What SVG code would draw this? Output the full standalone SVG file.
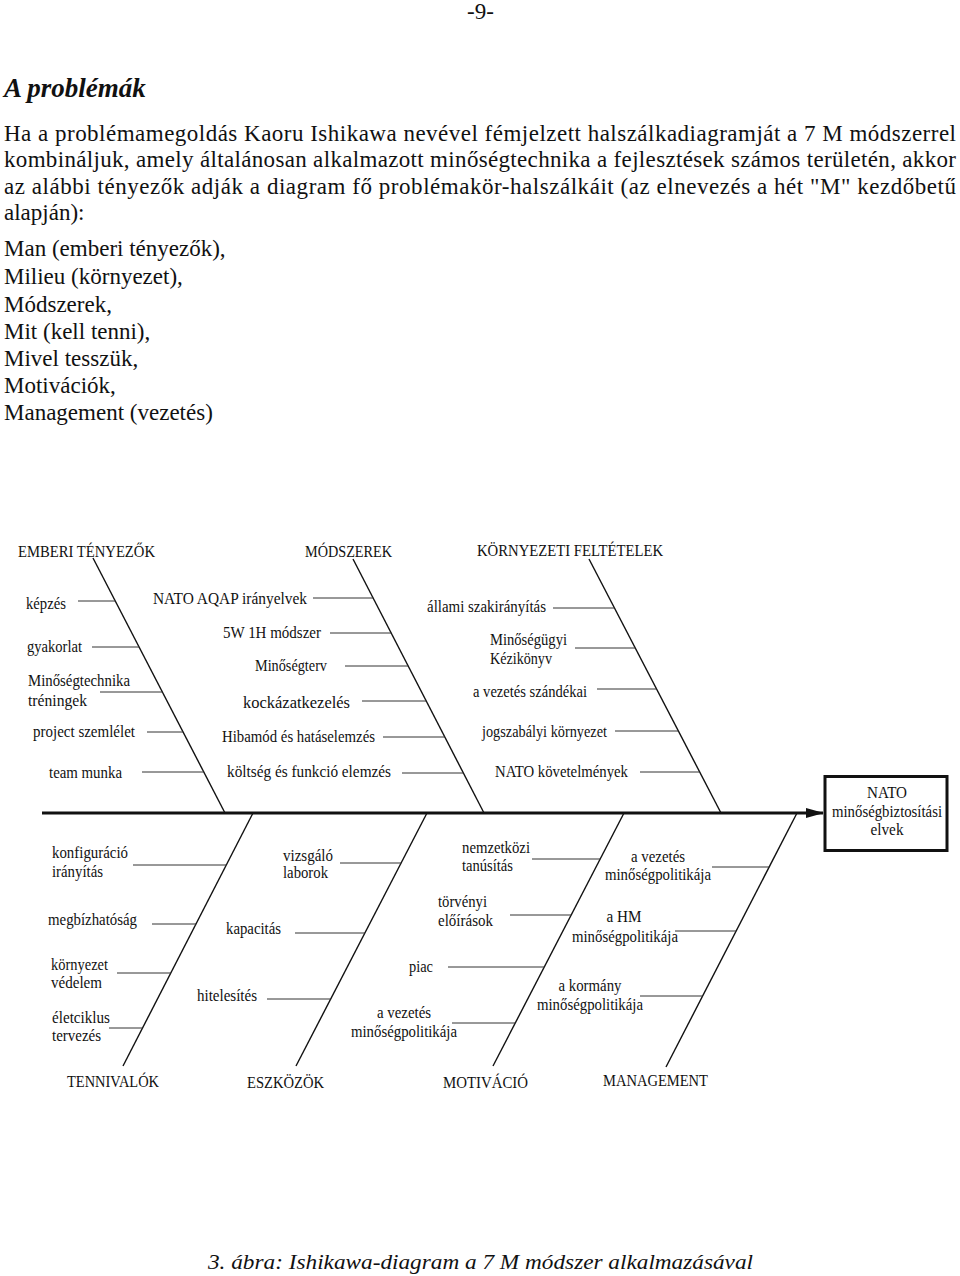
<svg xmlns="http://www.w3.org/2000/svg" width="960" height="1276" viewBox="0 0 960 1276">
<style>
text{font-family:"Liberation Serif","Times New Roman",serif;fill:#111}
.b{font-size:23px}
.h{font-size:27px;font-weight:bold;font-style:italic}
.l{font-size:16.5px}
.c{font-size:17.5px}
.cap{font-size:22px;font-style:italic}
.bone{stroke:#111;stroke-width:1.4;fill:none}
.rib{stroke:#333;stroke-width:1;fill:none}
.spine{stroke:#111;stroke-width:3;fill:none}
.m{text-anchor:middle}
</style>
<defs>
<marker id="arr" markerWidth="18" markerHeight="10" refX="17" refY="5" orient="auto" markerUnits="userSpaceOnUse">
<polygon points="0,0 18,5 0,10" fill="#111"/>
</marker>
</defs>
<rect width="960" height="1276" fill="#fff"/>

<g id="page-text">
<text class="b" x="467" y="19" font-size="22">-9-</text>
<text class="h" x="4" y="97">A problémák</text>
<text class="b" x="4" y="141" textLength="952" lengthAdjust="spacing">Ha a problémamegoldás Kaoru Ishikawa nevével fémjelzett halszálkadiagramját a 7 M módszerrel</text>
<text class="b" x="4" y="167" textLength="952" lengthAdjust="spacing">kombináljuk, amely általánosan alkalmazott minőségtechnika a fejlesztések számos területén, akkor</text>
<text class="b" x="4" y="194" textLength="952" lengthAdjust="spacing">az alábbi tényezők adják a diagram fő problémakör-halszálkáit (az elnevezés a hét "M" kezdőbetű</text>
<text class="b" x="4" y="220">alapján):</text>
<text class="b" x="4" y="256">Man (emberi tényezők),</text>
<text class="b" x="4" y="284">Milieu (környezet),</text>
<text class="b" x="4" y="312">Módszerek,</text>
<text class="b" x="4" y="339">Mit (kell tenni),</text>
<text class="b" x="4" y="366">Mivel tesszük,</text>
<text class="b" x="4" y="393">Motivációk,</text>
<text class="b" x="4" y="420">Management (vezetés)</text>
<text class="cap" x="208" y="1269" textLength="545" lengthAdjust="spacingAndGlyphs">3. ábra: Ishikawa-diagram a 7 M módszer alkalmazásával</text>
</g>

<g id="connectors">
<line class="spine" x1="42" y1="813" x2="823" y2="813" marker-end="url(#arr)"/>
<line class="bone" x1="93" y1="558" x2="225" y2="813"/>
<line class="bone" x1="353" y1="559" x2="484" y2="813"/>
<line class="bone" x1="589" y1="559" x2="721" y2="813"/>
<line class="bone" x1="253" y1="813" x2="123" y2="1066"/>
<line class="bone" x1="427" y1="813" x2="296" y2="1066"/>
<line class="bone" x1="624" y1="813" x2="493" y2="1066"/>
<line class="bone" x1="797" y1="813" x2="666" y2="1067"/>
<line class="rib" x1="78" y1="601" x2="115.3" y2="601"/>
<line class="rib" x1="92" y1="647" x2="139.1" y2="647"/>
<line class="rib" x1="100" y1="692" x2="162.4" y2="692"/>
<line class="rib" x1="147" y1="732" x2="183.1" y2="732"/>
<line class="rib" x1="142" y1="772" x2="203.8" y2="772"/>
<line class="rib" x1="313" y1="598" x2="373.1" y2="598"/>
<line class="rib" x1="330" y1="633" x2="391.2" y2="633"/>
<line class="rib" x1="345" y1="666" x2="408.2" y2="666"/>
<line class="rib" x1="362" y1="701" x2="426.2" y2="701"/>
<line class="rib" x1="383" y1="737" x2="444.8" y2="737"/>
<line class="rib" x1="402" y1="773" x2="463.4" y2="773"/>
<line class="rib" x1="553" y1="608" x2="614.5" y2="608"/>
<line class="rib" x1="575" y1="648" x2="635.3" y2="648"/>
<line class="rib" x1="597" y1="689" x2="656.6" y2="689"/>
<line class="rib" x1="615" y1="731" x2="678.4" y2="731"/>
<line class="rib" x1="640" y1="772" x2="699.7" y2="772"/>
<line class="rib" x1="133" y1="865" x2="226.3" y2="865"/>
<line class="rib" x1="152" y1="924" x2="196" y2="924"/>
<line class="rib" x1="117" y1="973" x2="170.8" y2="973"/>
<line class="rib" x1="109" y1="1028" x2="142.5" y2="1028"/>
<line class="rib" x1="340" y1="863" x2="401.1" y2="863"/>
<line class="rib" x1="295" y1="933" x2="364.9" y2="933"/>
<line class="rib" x1="267" y1="999" x2="330.7" y2="999"/>
<line class="rib" x1="532" y1="859" x2="600.2" y2="859"/>
<line class="rib" x1="510" y1="915" x2="571.2" y2="915"/>
<line class="rib" x1="448" y1="967" x2="544.3" y2="967"/>
<line class="rib" x1="452" y1="1023" x2="515.3" y2="1023"/>
<line class="rib" x1="712" y1="867" x2="769.2" y2="867"/>
<line class="rib" x1="675" y1="931" x2="736.1" y2="931"/>
<line class="rib" x1="640" y1="996" x2="702.6" y2="996"/>
</g>

<g id="cat-emberi"><text class="c" x="18" y="557" textLength="137" lengthAdjust="spacingAndGlyphs">EMBERI TÉNYEZŐK</text></g>
<g id="cat-modszerek"><text class="c" x="305" y="557" textLength="87" lengthAdjust="spacingAndGlyphs">MÓDSZEREK</text></g>
<g id="cat-kornyezeti"><text class="c" x="477" y="556" textLength="186" lengthAdjust="spacingAndGlyphs">KÖRNYEZETI FELTÉTELEK</text></g>
<g id="cat-tennivalok"><text class="c" x="67" y="1087" textLength="92" lengthAdjust="spacingAndGlyphs">TENNIVALÓK</text></g>
<g id="cat-eszkozok"><text class="c" x="247" y="1088" textLength="77" lengthAdjust="spacingAndGlyphs">ESZKÖZÖK</text></g>
<g id="cat-motivacio"><text class="c" x="443" y="1088" textLength="85" lengthAdjust="spacingAndGlyphs">MOTIVÁCIÓ</text></g>
<g id="cat-management"><text class="c" x="603" y="1086" textLength="105" lengthAdjust="spacingAndGlyphs">MANAGEMENT</text></g>

<g id="n-kepzes"><text class="l" x="26" y="609" textLength="40" lengthAdjust="spacingAndGlyphs">képzés</text></g>
<g id="n-gyakorlat"><text class="l" x="27" y="652" textLength="55" lengthAdjust="spacingAndGlyphs">gyakorlat</text></g>
<g id="n-minosegtechnika"><text class="l" x="28" y="686" textLength="102" lengthAdjust="spacingAndGlyphs">Minőségtechnika</text><text class="l" x="28" y="706" textLength="59" lengthAdjust="spacingAndGlyphs">tréningek</text></g>
<g id="n-project"><text class="l" x="33" y="737" textLength="102" lengthAdjust="spacingAndGlyphs">project szemlélet</text></g>
<g id="n-team"><text class="l" x="49" y="778" textLength="73" lengthAdjust="spacingAndGlyphs">team munka</text></g>

<g id="n-aqap"><text class="l" x="153" y="604" textLength="154" lengthAdjust="spacingAndGlyphs">NATO  AQAP irányelvek</text></g>
<g id="n-5w1h"><text class="l" x="223" y="638" textLength="98" lengthAdjust="spacingAndGlyphs">5W 1H módszer</text></g>
<g id="n-minosegterv"><text class="l" x="255" y="671" textLength="72" lengthAdjust="spacingAndGlyphs">Minőségterv</text></g>
<g id="n-kockazat"><text class="l" x="243" y="708" textLength="107" lengthAdjust="spacingAndGlyphs">kockázatkezelés</text></g>
<g id="n-hibamod"><text class="l" x="222" y="742" textLength="153" lengthAdjust="spacingAndGlyphs">Hibamód és hatáselemzés</text></g>
<g id="n-koltseg"><text class="l" x="227" y="777" textLength="164" lengthAdjust="spacingAndGlyphs">költség és funkció elemzés</text></g>

<g id="n-allami"><text class="l" x="427" y="612" textLength="119" lengthAdjust="spacingAndGlyphs">állami szakirányítás</text></g>
<g id="n-kezikonyv"><text class="l" x="490" y="645" textLength="77" lengthAdjust="spacingAndGlyphs">Minőségügyi</text><text class="l" x="490" y="664" textLength="62" lengthAdjust="spacingAndGlyphs">Kézikönyv</text></g>
<g id="n-szandekai"><text class="l" x="473" y="697" textLength="114" lengthAdjust="spacingAndGlyphs">a vezetés szándékai</text></g>
<g id="n-jogszabalyi"><text class="l" x="482" y="737" textLength="125" lengthAdjust="spacingAndGlyphs">jogszabályi környezet</text></g>
<g id="n-natokov"><text class="l" x="495" y="777" textLength="133" lengthAdjust="spacingAndGlyphs">NATO követelmények</text></g>

<g id="n-konfig"><text class="l" x="52" y="858" textLength="76" lengthAdjust="spacingAndGlyphs">konfiguráció</text><text class="l" x="52" y="877" textLength="51" lengthAdjust="spacingAndGlyphs">irányítás</text></g>
<g id="n-megbiz"><text class="l" x="48" y="925" textLength="89" lengthAdjust="spacingAndGlyphs">megbízhatóság</text></g>
<g id="n-kornyvedelem"><text class="l" x="51" y="970" textLength="57" lengthAdjust="spacingAndGlyphs">környezet</text><text class="l" x="51" y="988" textLength="51" lengthAdjust="spacingAndGlyphs">védelem</text></g>
<g id="n-eletciklus"><text class="l" x="52" y="1023" textLength="58" lengthAdjust="spacingAndGlyphs">életciklus</text><text class="l" x="52" y="1041" textLength="49" lengthAdjust="spacingAndGlyphs">tervezés</text></g>

<g id="n-vizsgalo"><text class="l" x="283" y="861" textLength="50" lengthAdjust="spacingAndGlyphs">vizsgáló</text><text class="l" x="283" y="878" textLength="45" lengthAdjust="spacingAndGlyphs">laborok</text></g>
<g id="n-kapacitas"><text class="l" x="226" y="934" textLength="55" lengthAdjust="spacingAndGlyphs">kapacitás</text></g>
<g id="n-hitelesites"><text class="l" x="197" y="1001" textLength="60" lengthAdjust="spacingAndGlyphs">hitelesítés</text></g>

<g id="n-nemzetkozi"><text class="l" x="462" y="853" textLength="68" lengthAdjust="spacingAndGlyphs">nemzetközi</text><text class="l" x="462" y="871" textLength="51" lengthAdjust="spacingAndGlyphs">tanúsítás</text></g>
<g id="n-torvenyi"><text class="l" x="438" y="907" textLength="49" lengthAdjust="spacingAndGlyphs">törvényi</text><text class="l" x="438" y="926" textLength="55" lengthAdjust="spacingAndGlyphs">előírások</text></g>
<g id="n-piac"><text class="l" x="409" y="972" textLength="24" lengthAdjust="spacingAndGlyphs">piac</text></g>
<g id="n-mot-vezetes"><text class="l m" x="404" y="1018" textLength="54" lengthAdjust="spacingAndGlyphs">a vezetés</text><text class="l m" x="404" y="1037" textLength="106" lengthAdjust="spacingAndGlyphs">minőségpolitikája</text></g>

<g id="n-man-vezetes"><text class="l m" x="658" y="862" textLength="54" lengthAdjust="spacingAndGlyphs">a vezetés</text><text class="l m" x="658" y="880" textLength="106" lengthAdjust="spacingAndGlyphs">minőségpolitikája</text></g>
<g id="n-hm"><text class="l m" x="624" y="922" textLength="35" lengthAdjust="spacingAndGlyphs">a HM</text><text class="l m" x="625" y="942" textLength="106" lengthAdjust="spacingAndGlyphs">minőségpolitikája</text></g>
<g id="n-kormany"><text class="l m" x="590" y="991" textLength="63" lengthAdjust="spacingAndGlyphs">a kormány</text><text class="l m" x="590" y="1010" textLength="106" lengthAdjust="spacingAndGlyphs">minőségpolitikája</text></g>

<g id="n-result">
<rect x="825" y="776.5" width="122" height="74" fill="#fff" stroke="#111" stroke-width="3"/>
<text class="l m" x="887" y="798" textLength="40" lengthAdjust="spacingAndGlyphs">NATO</text>
<text class="l m" x="887" y="817" textLength="110" lengthAdjust="spacingAndGlyphs">minőségbiztosítási</text>
<text class="l m" x="887" y="835" textLength="33" lengthAdjust="spacingAndGlyphs">elvek</text>
</g>
</svg>
